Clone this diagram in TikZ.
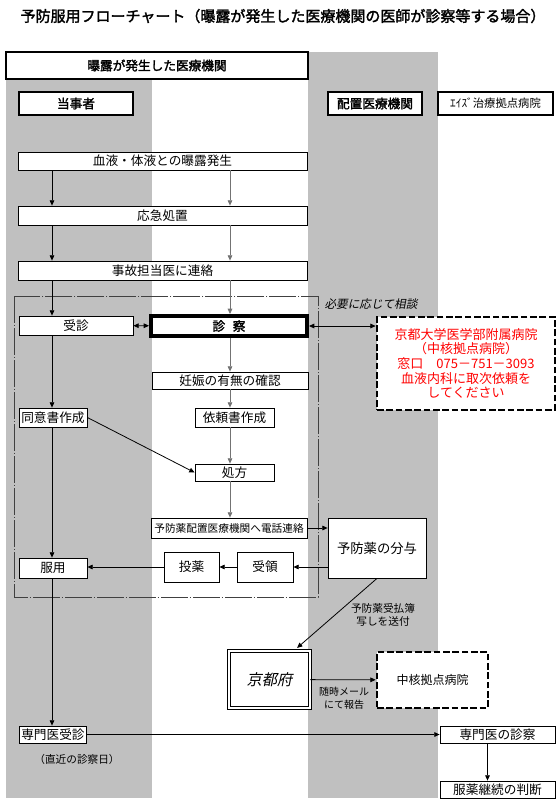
\documentclass[tikz,border=0pt]{standalone}
\usepackage{fontspec}
\setmainfont{Noto Sans CJK JP}[AutoFakeBold=2,AutoFakeSlant=0.2]
\usepackage{xcolor}
\usepackage{tikz}
\usetikzlibrary{positioning,arrows.meta,calc}
\definecolor{lanegray}{RGB}{192,192,192}

\begin{document}
\begin{tikzpicture}[
 x=0.75pt,y=-0.75pt,
 sz/.style 2 args={minimum width=#1*0.75pt,minimum height=#2*0.75pt},
 box/.style={draw,line width=0.6pt,fill=white,inner sep=0pt,align=center,
             font=\fontsize{9.5}{11}\selectfont},
 hbox/.style={box,line width=2pt,font=\fontsize{9.5}{11}\selectfont\bfseries},
 keybox/.style={box,line width=3pt,font=\fontsize{9.5}{11}\selectfont\bfseries},
 dbox/.style={box,line width=2pt,dash pattern=on 5pt off 2pt},
 govbox/.style={box,double,double distance=1.6pt,line width=0.6pt},
 frame/.style={draw=black!75,line width=0.6pt,dash pattern=on 20pt off 1.5pt on 1pt off 1.5pt},
 arr/.style={-{Triangle[length=4pt,width=3.5pt]},line width=0.6pt},
 garr/.style={arr,black!55},
 darr/.style={{Triangle[length=4pt,width=3.5pt]}-{Triangle[length=4pt,width=3.5pt]},line width=0.6pt},
 note/.style={align=center,font=\fontsize{8}{10}\selectfont}
]
\useasboundingbox (0,0) rectangle (557,800);

% lanes
\fill[lanegray] (6,80) rectangle (152,798);
\fill[lanegray] (308,52) rectangle (438,798);

\node[font=\fontsize{11.25}{13}\selectfont\bfseries] (title) at (283,16)
  {予防服用フローチャート（曝露が発生した医療機関の医師が診察等する場合）};

% headers
\node[hbox,sz={302}{27}] (hosp) at (157,65.5) {曝露が発生した医療機関};
\node[hbox,sz={114}{23}] (tou) at (76,103.5) {当事者};
\node[hbox,sz={94}{23}] (haichi) at (375,103.5) {配置医療機関};
\node[hbox,sz={115}{23},font=\fontsize{8.5}{10}\selectfont] (aids) at (495.5,103.5) {ｴｲｽﾞ治療拠点病院};

\coordinate (xa) at (52,0);
\coordinate (xb) at (230,0);
\coordinate (xc) at (487.5,0);

% common steps
\node[box,sz={289}{18}] (expo) at (162.5,161) {血液・体液との曝露発生};
\node[box,sz={289}{19}] (aid) at (162.5,215.5) {応急処置};
\node[box,sz={289}{19}] (call) at (162.5,270.5) {事故担当医に連絡};

\draw[frame] (14,296) rectangle (318,597);

% consultation block
\node[box,sz={114}{19}] (visit) at (76,325.5) {受診};
\node[keybox,sz={156}{20}] (exam) at (229,326) {診\hspace{0.6em}察};
\node[box,sz={156}{17}] (preg) at (230,380.5) {妊娠の有無の確認};
\node[box,sz={68}{19}] (consent) at (53,417.5) {同意書作成};
\node[box,sz={79}{19}] (req) at (234.5,417.5) {依頼書作成};
\node[box,sz={79}{17}] (presc) at (234.5,472.5) {処方};
\node[box,sz={156}{20},font=\fontsize{8}{10}\selectfont] (phone) at (229,528) {予防薬配置医療機関へ電話連絡};
\node[box,sz={68}{20}] (take) at (53,568) {服用};
\node[box,sz={55}{30}] (dose) at (191.5,567) {投薬};
\node[box,sz={56}{30}] (recv) at (265,567) {受領};
\node[box,sz={98}{60},font=\fontsize{10}{12}\selectfont] (share) at (377,548) {予防薬の分与};

\node[dbox,sz={178}{93},text=red,font=\fontsize{9.75}{11}\selectfont] (kyodai) at (466,363.5)
  {京都大学医学部附属病院\\（中核拠点病院）\\窓口　075－751－3093\\血液内科に取次依頼を\\してください};
\node[note,font=\fontsize{8.7}{10}\selectfont\itshape] (ask) at (371,304) {必要に応じて相談};

% report
\node[govbox,sz={81}{57},font=\fontsize{11.5}{13}\selectfont\itshape] (pref) at (269.5,679.5) {京都府};
\node[dbox,sz={111}{56},font=\fontsize{9}{11}\selectfont] (core) at (432.5,680) {中核拠点病院};
\node[note] (ledger) at (383,615) {予防薬受払簿\\写しを送付};
\node[note,font=\fontsize{7.5}{9.5}\selectfont] (mail) at (344,698) {随時メール\\にて報告};

% specialist
\node[box,sz={67}{17}] (spv) at (53,734.5) {専門医受診};
\node[box,sz={115}{17}] (spe) at (497.5,734.5) {専門医の診察};
\node[box,sz={115}{17}] (cont) at (497.5,789.5) {服薬継続の判断};
\node[note] (date) at (77,759) {（直近の診察日）};

\draw[arr] (expo.south -| xa)--(aid.north -| xa);
\draw[garr] (expo.south -| xb)--(aid.north -| xb);
\draw[arr] (aid.south -| xa)--(call.north -| xa);
\draw[garr] (aid.south -| xb)--(call.north -| xb);
\draw[arr] (call.south -| xa)--(visit.north -| xa);
\draw[garr] (call.south -| xb)--(exam.north -| xb);
\draw[darr] (visit)--(exam);
\draw[darr] (exam.east)--(kyodai.west |- exam.east);
\draw[garr] (exam.south -| xb)--(preg.north -| xb);
\draw[garr] (preg.south -| xb)--(req.north -| xb);
\draw[garr] (req.south -| xb)--(presc.north -| xb);
\draw[garr] (presc.south -| xb)--(phone.north -| xb);
\draw[arr] (visit.south -| xa)--(consent.north -| xa);
\draw[arr] (consent.east)--(presc.west);
\draw[arr] (consent.south -| xa)--(take.north -| xa);
\draw[arr] (phone.east)--(phone.east -| share.west);
\draw[arr] (share.west |- recv.east)--(recv.east);
\draw[arr] (recv)--(dose);
\draw[arr] (dose.west)--(take.east |- dose.west);
\draw[arr] (share.south)--([xshift=-10pt,yshift=2pt]pref.north east);
\draw[arr] (pref)--(core);
\draw[arr] (take.south -| xa)--(spv.north -| xa);
\draw[arr] (spv)--(spe);
\draw[arr] (spe.south -| xc)--(cont.north -| xc);
\end{tikzpicture}
\end{document}
